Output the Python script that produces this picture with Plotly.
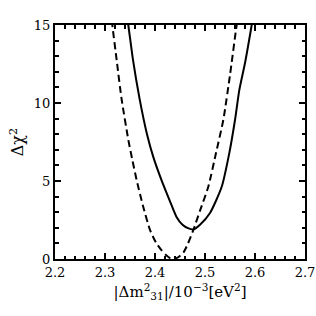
import plotly.graph_objects as go

# Solid curve
solid_x = [2.342, 2.3466, 2.356, 2.369, 2.384, 2.397, 2.413, 2.430, 2.443, 2.455, 2.466, 2.477,
           2.490, 2.510, 2.5334, 2.5486, 2.560, 2.5686, 2.580, 2.5934, 2.5985]
solid_y = [16.0, 15.0, 12.76, 10.3, 8.0, 6.5, 5.06, 3.7, 2.7, 2.2, 1.98, 1.9,
           2.2, 2.95, 4.63, 6.79, 8.91, 10.83, 12.56, 15.0, 16.0]

# Dashed curve
dash_x = [2.311, 2.3146, 2.3233, 2.333, 2.3467, 2.355, 2.3633, 2.376, 2.390, 2.402, 2.4133, 2.423,
          2.430, 2.436, 2.446, 2.457, 2.466, 2.4767, 2.490, 2.5066, 2.522, 2.5366, 2.550, 2.5633, 2.568]
dash_y = [16.0, 15.0, 12.76, 10.3, 7.63, 6.3, 5.06, 3.4, 1.86, 1.05, 0.55, 0.22,
          0.06, 0.0, 0.1, 0.42, 1.0, 1.86, 3.1, 4.63, 6.8, 8.91, 11.8, 15.0, 16.0]

x_ticks = [2.2, 2.3, 2.4, 2.5, 2.6, 2.7]
y_ticks = [0, 5, 10, 15]

SERIF = "DejaVu Serif"

fig = go.Figure()
fig.add_trace(go.Scatter(x=solid_x, y=solid_y, mode="lines",
                         line=dict(color="black", width=2, shape="spline", smoothing=0.6)))
fig.add_trace(go.Scatter(x=dash_x, y=dash_y, mode="lines",
                         line=dict(color="black", width=2, dash="7px,4px", shape="spline", smoothing=0.6)))

fig.update_layout(
    width=316, height=316,
    margin=dict(l=55, r=11, t=25, b=57),
    paper_bgcolor="white", plot_bgcolor="white",
    showlegend=False,
    font=dict(family=SERIF, size=13, color="black"),
)
fig.update_xaxes(range=[2.2, 2.7], tickmode="array", tickvals=x_ticks,
                 ticktext=[f"{v:.1f}" for v in x_ticks],
                 ticks="inside", ticklen=6, tickwidth=1.5, tickcolor="black",
                 minor=dict(dtick=0.02, tick0=2.2, ticks="inside", ticklen=3.5, tickwidth=1.5, tickcolor="black"),
                 showline=True, linewidth=2, linecolor="black", mirror="allticks",
                 showgrid=False, zeroline=False, automargin=False,
                 tickfont=dict(family=SERIF, size=13, color="black"),
                 title_text="|Δm<sup>2</sup><sub>31</sub>|/10<sup>−3</sup>[eV<sup>2</sup>]",
                 title_font=dict(family=SERIF, size=15, color="black"), title_standoff=8)
fig.update_yaxes(range=[0, 15], tickmode="array", tickvals=y_ticks,
                 ticks="inside", ticklen=6, tickwidth=1.5, tickcolor="black",
                 minor=dict(dtick=1, tick0=0, ticks="inside", ticklen=3.5, tickwidth=1.5, tickcolor="black"),
                 showline=True, linewidth=2, linecolor="black", mirror="allticks",
                 showgrid=False, zeroline=False, automargin=False,
                 tickfont=dict(family=SERIF, size=13, color="black"),
                 title_text="Δχ<sup>2</sup>",
                 title_font=dict(family=SERIF, size=16, color="black"), title_standoff=6)

fig.write_html("out.html",
               config={"displayModeBar": False},
               post_script="document.body.style.margin='0';document.body.style.overflow='hidden';")
